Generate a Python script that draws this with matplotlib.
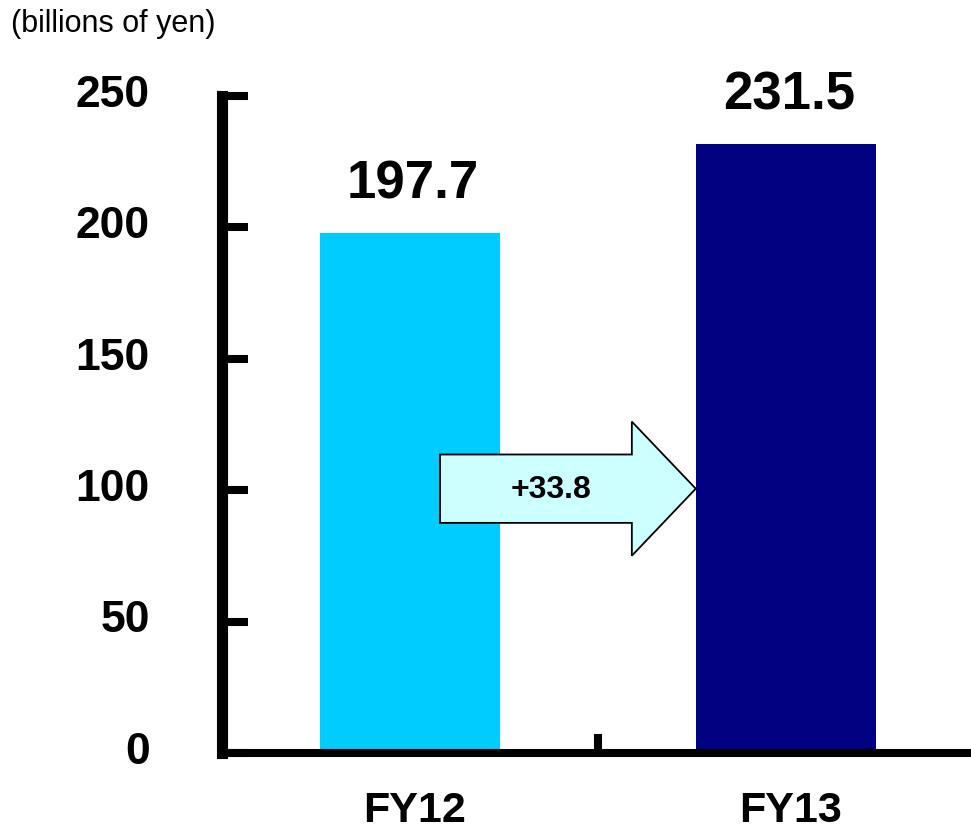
import matplotlib
matplotlib.use("Agg")
import matplotlib.pyplot as plt
from matplotlib.patches import Polygon
from matplotlib.transforms import ScaledTranslation

# Data
categories = ["FY12", "FY13"]
values = [197.7, 231.5]
bar_colors = ["#00CCFF", "#000080"]
y_ticks = [0, 50, 100, 150, 200, 250]
unit_label = "(billions of yen)"

DPI = 100
W, H = 971, 833
fig = plt.figure(figsize=(W / DPI, H / DPI), dpi=DPI)
fig.patch.set_facecolor("white")

# axes frame in pixel units
left_px, right_px = 222, 974
top_px, bottom_px = 95.5, 753
ax = fig.add_axes([left_px / W, (H - bottom_px) / H,
                   (right_px - left_px) / W, (bottom_px - top_px) / H])

FONT = ["Liberation Sans", "DejaVu Sans"]

x = list(range(len(categories)))
bar_w = 0.48
ax.bar(x, values, width=bar_w, color=bar_colors, edgecolor="none", zorder=2)

ax.set_xlim(-0.5, 1.5)
ax.set_ylim(0, 250)

# spines
for s in ["top", "right"]:
    ax.spines[s].set_visible(False)
ax.spines["left"].set_linewidth(8)
ax.spines["bottom"].set_linewidth(5.8)
for s in ["left", "bottom"]:
    ax.spines[s].set_color("black")
    ax.spines[s].set_zorder(3)

# y axis ticks and labels
ax.set_yticks(y_ticks)
ax.set_yticklabels([str(t) for t in y_ticks], fontfamily=FONT,
                   fontweight="bold", fontsize=32)
ax.tick_params(axis="y", direction="in", length=19, width=5.8, pad=52,
               colors="black")
lift = ScaledTranslation(0, 5 / DPI, fig.dpi_scale_trans)
for lbl in ax.get_yticklabels():
    lbl.set_transform(lbl.get_transform() + lift)

# x axis: divider tick between categories, labels under the bars
ax.set_xticks([0.5])
ax.set_xticklabels([""])
ax.tick_params(axis="x", which="major", direction="in", length=14, width=5.8,
               colors="black")
ax.set_xticks(x, minor=True)
ax.set_xticklabels(categories, minor=True, fontfamily=FONT,
                   fontweight="bold", fontsize=31)
ax.tick_params(axis="x", which="minor", length=0, pad=27)
shift = ScaledTranslation(5 / DPI, 0, fig.dpi_scale_trans)
for lbl in ax.get_xticklabels(minor=True):
    lbl.set_transform(lbl.get_transform() + shift)

# value labels above bars
for xi, v in zip(x, values):
    ax.annotate(f"{v:.1f}", (xi, v), xytext=(2, 17), textcoords="offset points",
                ha="center", va="bottom", fontsize=38, fontweight="bold",
                family=FONT, color="black", zorder=4)

# block arrow showing the increase between the two years
diff = values[1] - values[0]
tip_x = x[1] - bar_w / 2
tail_x = 0.08
head_x = 0.59
yc = 100.5
body_h = 13
head_h = 25.5
arrow = Polygon([(tail_x, yc + body_h), (head_x, yc + body_h),
                 (head_x, yc + head_h), (tip_x, yc),
                 (head_x, yc - head_h), (head_x, yc - body_h),
                 (tail_x, yc - body_h)],
                closed=True, facecolor="#CCFFFF", edgecolor="black",
                linewidth=1.3, zorder=5)
ax.add_patch(arrow)
ax.text((tail_x + head_x) / 2 + 0.04, yc - 0.5, f"+{diff:.1f}", ha="center",
        va="center", fontsize=23, fontweight="bold", family=FONT,
        color="black", zorder=6)

# unit label
fig.text(11 / W, 1 - 9 / H, unit_label, ha="left", va="top", fontsize=22,
         family=FONT, color="black")

fig.savefig("out.png", dpi=DPI, facecolor="white")
